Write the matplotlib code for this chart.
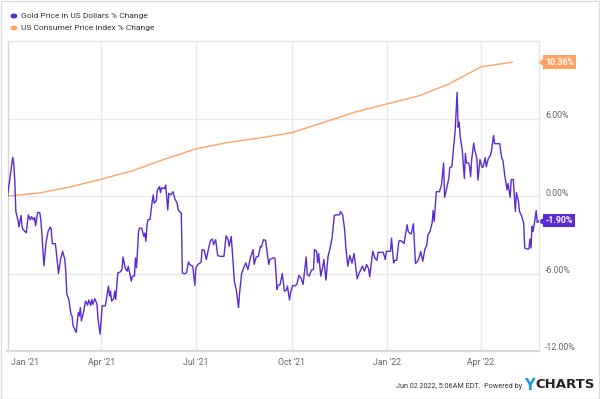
import numpy as np
import matplotlib
matplotlib.use('Agg')
import matplotlib.pyplot as plt
import matplotlib.dates as mdates
import matplotlib.transforms as mtransforms
from matplotlib import font_manager

# pick a narrow face if one is around
names = {f.name for f in font_manager.fontManager.ttflist}
font = 'Liberation Sans Narrow' if 'Liberation Sans Narrow' in names else 'Roboto'
plt.rcParams['font.family'] = [font, 'DejaVu Sans']

# Gold price % change (days since 2021-01-01, % change)
gold_day = [0, 5, 6, 7, 8, 10, 11, 13, 14, 15, 18, 20, 22, 23, 25, 26, 27, 29, 31, 32,
            33, 35, 37, 39, 41, 42, 43, 46, 47, 49, 51, 53, 55, 56, 57, 59, 61, 62, 63, 66,
            68, 69, 70, 71, 73, 75, 77, 78, 80, 81, 82, 84, 86, 87, 89, 91, 94, 95, 97, 98,
            99, 100, 102, 103, 104, 106, 108, 110, 111, 113, 115, 116, 118, 119, 120, 122, 123, 124, 126, 127,
            129, 131, 132, 133, 134, 135, 137, 139, 140, 141, 143, 144, 146, 147, 148, 150, 151, 152, 154, 155,
            157, 159, 161, 163, 164, 167, 168, 170, 172, 174, 175, 178, 180, 181, 183, 186, 187, 189, 191, 193,
            195, 197, 198, 200, 202, 204, 208, 210, 212, 213, 215, 218, 220, 222, 223, 225, 227, 229, 231, 233,
            236, 237, 239, 241, 243, 244, 246, 248, 251, 252, 255, 257, 259, 260, 262, 264, 266, 268, 269, 271,
            272, 274, 276, 278, 280, 282, 284, 287, 288, 290, 292, 294, 295, 297, 298, 299, 301, 303, 304, 306,
            308, 310, 312, 314, 316, 319, 320, 322, 324, 325, 327, 329, 331, 333, 336, 338, 341, 343, 345, 347,
            348, 351, 353, 355, 356, 360, 361, 363, 364, 368, 369, 371, 372, 374, 376, 377, 379, 381, 384, 385,
            387, 388, 390, 392, 394, 396, 397, 399, 401, 403, 404, 406, 408, 409, 410, 412, 415, 417, 419, 420,
            422, 424, 425, 427, 429, 430, 432, 433, 434, 435, 437, 438, 439, 440, 441, 443, 444, 445, 446, 448,
            449, 451, 452, 454, 456, 457, 459, 460, 462, 464, 465, 467, 468, 470, 473, 474, 475, 476, 478, 480,
            481, 483, 484, 486, 487, 488, 489, 491, 492, 494, 496, 497, 499, 501, 502, 503, 504, 505, 507, 508,
            509, 511]
gold_pct = [0.0, 3.0, 2.5, 1.2, -1.2, -1.85, -2.4, -1.5, -2.4, -2.6, -2.85, -1.46, -1.85, -1.6, -1.85, -1.67, -2.3, -1.28, -1.28, -1.85,
            -2.87, -5.4, -3.64, -2.74, -2.41, -2.56, -3.69, -3.69, -4.4, -6.0, -4.9, -4.28, -4.9, -5.8, -7.6, -8.05, -9.15, -9.3, -10.05, -10.56,
            -9.03, -9.28, -8.64, -9.67, -9.03, -8.13, -8.46, -8.05, -8.46, -8.0, -8.38, -7.95, -8.38, -9.54, -10.7, -8.5, -8.5, -8.0, -6.97, -7.74,
            -7.36, -8.13, -7.95, -7.36, -8.0, -5.95, -5.9, -5.7, -4.72, -5.56, -5.82, -5.44, -6.2, -6.6, -6.2, -6.2, -4.8, -5.56, -2.67, -2.49,
            -2.49, -3.13, -2.87, -3.51, -2.3, -1.85, -1.8, -0.44, 0.08, -0.56, -0.36, 0.46, 0.72, 0.26, 0.64, 0.59, 0.59, 0.85, -1.08, 0.21,
            0.08, 0.33, -0.26, -0.56, -1.08, -1.33, -5.95, -6.03, -5.95, -5.1, -5.3, -5.44, -6.92, -5.56, -5.3, -5.13, -4.15, -4.2, -4.92, -4.15,
            -3.44, -3.33, -3.77, -3.38, -4.6, -4.67, -4.67, -3.08, -3.38, -3.9, -3.13, -6.6, -7.36, -8.64, -7.49, -6.0, -5.56, -5.18, -5.69, -4.92,
            -4.15, -5.3, -4.72, -4.67, -3.9, -3.95, -3.38, -3.44, -5.3, -4.92, -4.8, -4.8, -7.23, -6.92, -6.85, -6.0, -7.36, -7.28, -6.97, -8.05,
            -7.49, -6.92, -6.97, -6.85, -6.15, -6.33, -6.85, -4.72, -6.08, -6.2, -5.74, -5.69, -4.15, -4.28, -5.18, -4.46, -6.2, -5.44, -4.92, -6.51,
            -4.67, -4.03, -3.18, -1.51, -1.46, -1.46, -1.2, -1.46, -2.62, -3.9, -5.44, -4.6, -5.2, -4.45, -6.41, -5.95, -5.44, -5.82, -5.3, -5.64,
            -6.26, -4.28, -4.8, -4.98, -4.36, -4.36, -4.36, -4.92, -4.28, -4.28, -3.26, -5.18, -4.98, -4.98, -3.51, -3.44, -3.51, -3.69, -2.23, -2.74,
            -2.92, -2.92, -2.15, -5.23, -5.05, -4.67, -4.28, -5.05, -4.15, -3.77, -3.0, -2.74, -2.1, -1.13, -1.97, 0.33, 0.33, 0.85, 2.56, -0.1,
            0.59, 1.36, 2.21, 2.26, 4.1, 4.87, 8.03, 5.33, 5.72, 4.56, 3.54, 2.38, 1.36, 3.28, 2.56, 2.56, 2.26, 1.49, 2.82, 4.1,
            3.54, 2.9, 1.23, 2.82, 2.21, 2.26, 2.97, 2.26, 2.9, 3.15, 3.49, 4.69, 4.05, 4.05, 4.05, 3.41, 2.9, 2.77, 1.49, 0.46,
            0.97, -0.1, 1.28, 1.28, -0.05, -1.2, 0.26, -0.44, -1.2, -1.54, -2.1, -4.03, -4.1, -4.1, -3.33, -4.03, -2.36, -2.74, -1.72, -1.13,
            -2.05, -1.9]

# CPI % change, monthly
cpi_dates = ['2021-01-01', '2021-02-01', '2021-03-01', '2021-04-01', '2021-05-01', '2021-06-01',
             '2021-07-01', '2021-08-01', '2021-09-01', '2021-10-01', '2021-11-01', '2021-12-01',
             '2022-01-01', '2022-02-01', '2022-03-01', '2022-04-01', '2022-05-01']
cpi_pct = [0.0, 0.24, 0.68, 1.3, 1.95, 2.85, 3.65, 4.15, 4.5, 4.9, 5.7, 6.5,
           7.13, 7.77, 8.67, 10.0, 10.36]

tick_dates = ['2021-01-01', '2021-04-01', '2021-07-01', '2021-10-01', '2022-01-01', '2022-04-01']
tick_labels = ["Jan '21", "Apr '21", "Jul '21", "Oct '21", "Jan '22", "Apr '22"]
y_ticks = [-12, -6, 0, 6]

purple = '#5b2bd3'
orange = '#ffa263'
grid_c = '#e9e9e9'

start = np.datetime64('2021-01-01')
gold_x = start + np.array(gold_day).astype('timedelta64[D]')
cpi_x = np.array(cpi_dates, dtype='datetime64[D]')

fig = plt.figure(figsize=(6, 3.99), dpi=100)
ax = fig.add_axes([7.5 / 600, 48 / 399, 531.5 / 600, 310 / 399])

ax.plot(cpi_x, cpi_pct, color=orange, lw=1.0, zorder=3)
ax.plot(gold_x, gold_pct, color=purple, lw=1.0, zorder=4)

ax.set_xlim(mdates.date2num(start), mdates.date2num(start) + 510.7)
ax.set_ylim(-12, 12)

ax.set_xticks(mdates.date2num(np.array(tick_dates, dtype='datetime64[D]')))
ax.set_xticklabels(tick_labels)
ax.set_yticks(y_ticks)
ax.set_yticklabels(['%.2f%%' % v for v in y_ticks])
ax.yaxis.tick_right()
ax.tick_params(axis='both', length=0, labelsize=6.3, labelcolor='#666666')
ax.tick_params(axis='y', pad=4.5)
ax.tick_params(axis='x', pad=5)

ax.grid(True, color=grid_c, lw=1.0, zorder=0)
for side in ['top', 'right']:
    ax.spines[side].set_color('#e6e6e6')
    ax.spines[side].set_linewidth(1.0)
ax.spines['left'].set_color('#d6d6d6')
ax.spines['left'].set_linewidth(1.0)
ax.spines['bottom'].set_color('#d9d9d9')
ax.spines['bottom'].set_linewidth(1.6)

# nudge y labels up a little, first x label to the right
up = mtransforms.ScaledTranslation(0, 4 / 100, fig.dpi_scale_trans)
for lab in ax.get_yticklabels():
    lab.set_transform(lab.get_transform() + up)
first = ax.get_xticklabels()[0]
first.set_horizontalalignment('left')
first.set_transform(first.get_transform() + mtransforms.ScaledTranslation(4 / 100, 0, fig.dpi_scale_trans))

# end value flags
flag_tr = mtransforms.blended_transform_factory(ax.transAxes, ax.transData)
for val, col in [(cpi_pct[-1], orange), (gold_pct[-1], purple)]:
    ax.plot([1.004], [val], marker='<', ms=5, color=col, transform=flag_tr, clip_on=False)
    ax.text(1.012, val, '%.2f%%' % val, transform=flag_tr, ha='left', va='center',
            fontsize=6.3, color='white', fontweight='bold',
            bbox=dict(boxstyle='square,pad=0.25', fc=col, ec='none'), clip_on=False)

# legend
fig.patches.append(plt.Circle((14 / 600, 1 - 16 / 399), 0.0045, color=purple, transform=fig.transFigure))
fig.patches.append(plt.Circle((14 / 600, 1 - 28 / 399), 0.0045, color=orange, transform=fig.transFigure))
fig.text(21 / 600, 1 - 16 / 399, 'Gold Price in US Dollars % Change', fontsize=6.0,
         color='#333333', va='center')
fig.text(21 / 600, 1 - 28 / 399, 'US Consumer Price Index % Change', fontsize=6.0,
         color='#333333', va='center')

# footer
fig.canvas.draw()
r = fig.canvas.get_renderer()
t1 = fig.text(595 / 600, 1 - 385 / 399, 'CHARTS', fontsize=9.5, fontweight='bold',
              color='#222222', ha='right', va='center', family='DejaVu Sans')
x_left = t1.get_window_extent(r).x0 / fig.bbox.width
t2 = fig.text(x_left - 0.002, 1 - 385 / 399, 'Y', fontsize=10.5, fontweight='bold',
              color='#1e9ad6', ha='right', va='center', family='DejaVu Sans')
x_left = t2.get_window_extent(r).x0 / fig.bbox.width
fig.text(x_left - 0.003, 1 - 386 / 399, 'Jun 02 2022, 5:06AM EDT.  Powered by', fontsize=5.2,
         color='#333333', ha='right', va='center')

# outer frame
fig.patches.append(plt.Rectangle((0.001, 0.001), 0.998, 0.997, transform=fig.transFigure,
                                 fill=False, ec='#dddddd', lw=1.0))

fig.savefig('out.png', dpi=100)
